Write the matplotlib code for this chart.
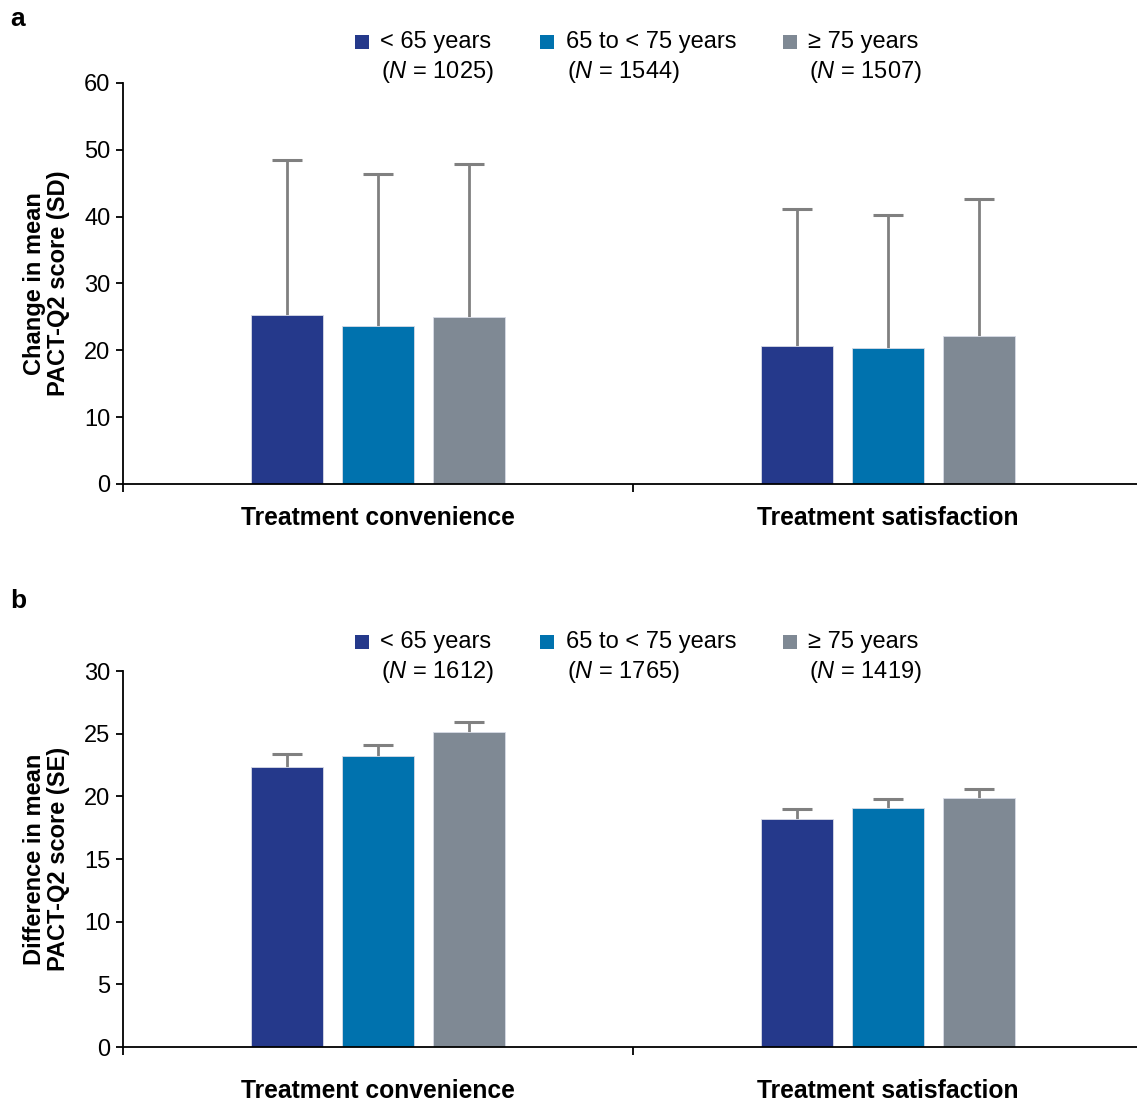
import matplotlib
matplotlib.use("Agg")
import matplotlib.pyplot as plt
from matplotlib.patches import Rectangle
import numpy as np

plt.rcParams['font.family'] = ['Liberation Sans', 'DejaVu Sans']
plt.rcParams['mathtext.fontset'] = 'custom'
plt.rcParams['mathtext.it'] = 'Liberation Sans:italic'
plt.rcParams['mathtext.rm'] = 'Liberation Sans'

categories = ["Treatment convenience", "Treatment satisfaction"]
groups = ["< 65 years", "65 to < 75 years", "\u2265 75 years"]
colors = ["#25398B", "#0072AE", "#7F8994"]

# panel a: change in mean score (SD)
a_n = [1025, 1544, 1507]
a_mean = {"< 65 years": [25.3, 20.7],
          "65 to < 75 years": [23.7, 20.4],
          "\u2265 75 years": [25.0, 22.2]}
a_sd = {"< 65 years": [23.2, 20.5],
        "65 to < 75 years": [22.7, 19.9],
        "\u2265 75 years": [22.9, 20.5]}

# panel b: difference in mean score (SE)
b_n = [1612, 1765, 1419]
b_mean = {"< 65 years": [22.35, 18.2],
          "65 to < 75 years": [23.2, 19.1],
          "\u2265 75 years": [25.1, 19.9]}
b_se = {"< 65 years": [1.05, 0.75],
        "65 to < 75 years": [0.9, 0.7],
        "\u2265 75 years": [0.85, 0.7]}

W, H = 1137, 1104
fig = plt.figure(figsize=(W / 100, H / 100), dpi=100)


def px(x, y):
    return x / W, 1 - y / H


def draw_panel(rect, means, errs, n, ylim, yticks, ylabel, leg_y, letter, letter_y, cat_off):
    ax = fig.add_axes(rect)
    centers = np.arange(len(categories)) + 0.5
    offsets = [-0.178, 0.0, 0.178]
    for g, off, c in zip(groups, offsets, colors):
        xs = centers + off
        tops = np.array(means[g]) + np.array(errs[g])
        ax.bar(xs, means[g], width=0.141, color=c, edgecolor='#d8dbe6',
               linewidth=0.6, zorder=2)
        # upper error bar only: stem plus cap
        ax.vlines(xs, means[g], tops, color='#808080', linewidth=2.0, zorder=1)
        ax.plot(xs, tops, linestyle='none', marker='_', markersize=22,
                markeredgewidth=2.2, color='#808080', zorder=1)
    ax.set_xlim(0, 2)
    ax.set_ylim(*ylim)
    ax.set_yticks(yticks)
    ax.set_xticks([0, 1, 2])
    ax.set_xticklabels([])
    for s in ['top', 'right']:
        ax.spines[s].set_visible(False)
    for s in ['left', 'bottom']:
        ax.spines[s].set_linewidth(1.3)
    ax.tick_params(axis='y', length=5, width=1.3, labelsize=17, pad=4)
    ax.tick_params(axis='x', length=6, width=1.3)
    for c, lab in zip(centers, categories):
        ax.annotate(lab, (c, 0), xycoords=('data', 'axes fraction'),
                    xytext=(0, -cat_off * 0.72), textcoords='offset points',
                    ha='center', va='center', fontsize=17.7, fontweight='bold')
    ax.set_ylabel(ylabel, fontsize=17, fontweight='bold', linespacing=1.05, labelpad=10)
    # legend
    sq_x = [355, 540, 783]
    tx_x = [380, 566, 808]
    for sx, tx, g, c, nn in zip(sq_x, tx_x, groups, colors, n):
        x0, y0 = px(sx, leg_y + 7)
        fig.patches.append(Rectangle((x0, y0), 14 / W, 14 / H, transform=fig.transFigure,
                                     facecolor=c, edgecolor='none'))
        fig.text(*px(tx, leg_y), g, fontsize=17, va='center', ha='left')
        fig.text(*px(tx + 1, leg_y + 30), r"($\it{N}$ = %d)" % nn, fontsize=17,
                 va='center', ha='left')
    fig.text(*px(10, letter_y), letter, fontsize=19, fontweight='bold', va='center')
    return ax


draw_panel([123 / W, 1 - 484 / H, 1020 / W, 401 / H], a_mean, a_sd, a_n,
           (0, 60), range(0, 61, 10), "Change in mean\nPACT-Q2 score (SD)", 42, "a", 19, 34)
draw_panel([123 / W, 1 - 1047 / H, 1020 / W, 376 / H], b_mean, b_se, b_n,
           (0, 30), range(0, 31, 5), "Difference in mean\nPACT-Q2 score (SE)", 642, "b", 601, 44)

fig.savefig("out.png", dpi=100)
